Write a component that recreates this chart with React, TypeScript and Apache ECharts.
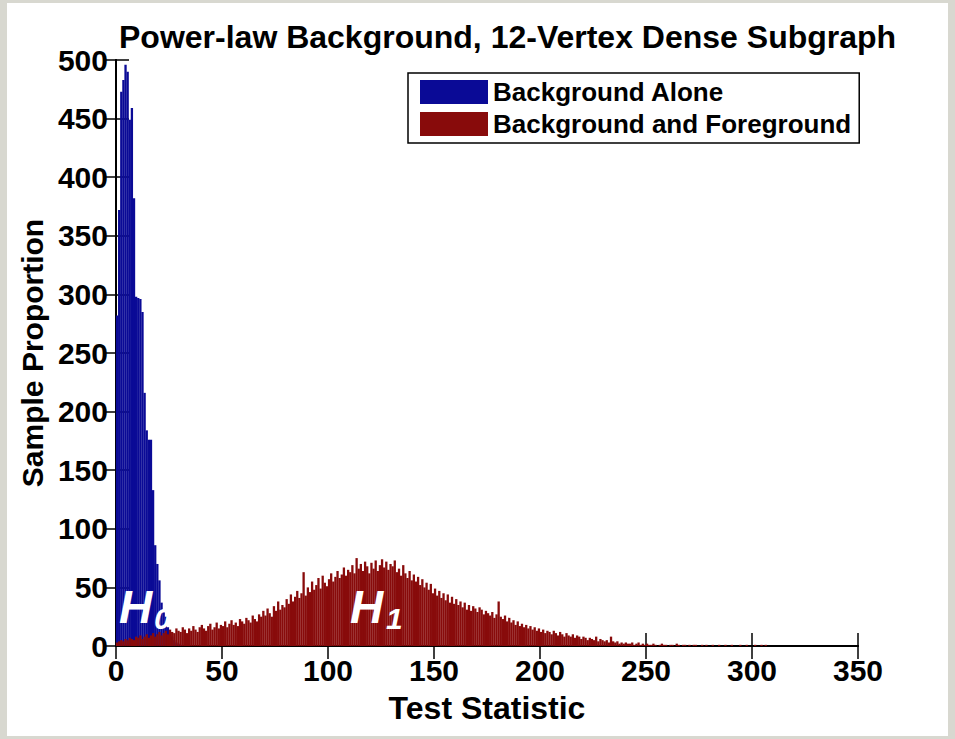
import React, { useEffect, useRef } from "react";
import * as echarts from "echarts";

const titleText = "Power-law Background, 12-Vertex Dense Subgraph";
const xAxisTitle = "Test Statistic";
const yAxisTitle = "Sample Proportion";
const seriesNames = ["Background Alone", "Background and Foreground"];

// histogram counts per unit-width bin, starting at bin 0
const blueValues = [
  282, 372, 473, 483, 496, 490, 449, 459, 382, 298,
  297, 296, 285, 216, 184, 176, 176, 133, 86, 70,
  56, 37, 30, 25, 16, 10, 8, 5, 3, 2, 1,
];

const redValues = [
  3, 4, 5, 4, 6, 5, 7, 6, 5, 8,
  7, 9, 6, 8, 10, 7, 9, 11, 8, 10,
  12, 9, 11, 13, 10, 14, 12, 11, 15, 13,
  12, 16, 14, 11, 15, 13, 17, 14, 12, 16,
  18, 15, 13, 17, 19, 14, 16, 20, 15, 18,
  17, 21, 16, 19, 22, 18, 20, 17, 23, 21,
  19, 24, 22, 20, 26, 23, 21, 27, 25, 30,
  26, 32, 28, 25, 34, 30, 38, 31, 35, 33,
  40, 36, 44, 38, 42, 47, 41, 45, 63, 43,
  50, 46, 55, 48, 52, 58, 49, 60, 54, 51,
  57, 62, 55, 59, 64, 58, 61, 67, 60, 65,
  63, 69, 62, 75, 66, 70, 64, 72, 68, 62,
  71, 66, 73, 64, 69, 74, 67, 72, 65, 70,
  68, 73, 63, 66, 60, 69, 62, 58, 64, 56,
  61, 55, 59, 52, 57, 50, 54, 48, 53, 45,
  49, 43, 47, 41, 45, 39, 44, 37, 42, 36,
  40, 35, 38, 33, 37, 31, 35, 30, 34, 32,
  29, 33, 31, 27, 30, 28, 26, 29, 24, 27,
  38, 25, 23, 26, 21, 24, 20, 22, 18, 21,
  17, 19, 16, 18, 15, 17, 14, 16, 13, 15,
  12, 14, 11, 13, 12, 10, 13, 11, 9, 12,
  10, 8, 11, 9, 8, 10, 7, 9, 8, 6,
  8, 7, 5, 7, 6, 5, 8, 4, 6, 5,
  4, 5, 3, 8, 4, 3, 4, 2, 3, 2,
  3, 2, 2, 3, 1, 2, 3, 1, 2, 1,
  2, 1, 1, 2, 1, 0, 1, 2, 1, 1,
  0, 1, 1, 0, 2, 1, 0, 1, 1, 0,
  1, 0, 1, 1, 0, 0, 1, 0, 1, 0,
  0, 1, 0, 0, 1, 0, 0, 1, 0, 0,
  1, 0, 0, 0, 1, 0, 0, 1, 0, 0,
  0, 1, 0, 0, 1, 0, 1, 0, 0, 0,
];

const xMin = 0;
const xMax = 350;
const xStep = 50;
const yMin = 0;
const yMax = 500;
const yStep = 50;

const FONT = "'Liberation Sans', Arial, Helvetica, sans-serif";
const BLUE = "#0a0a96";
const RED = "#880b0b";

const toBins = (vals: number[]) => vals.map((v, i) => [i + 0.5, v]);

export default function App() {
  const ref = useRef<HTMLDivElement>(null);
  useEffect(() => {
    if (!ref.current) return;
    const chart = echarts.init(ref.current, null, { renderer: "svg" });
    const axisLine = { show: true, lineStyle: { color: "#000", width: 2 } };
    const tick = { show: true, inside: true, length: 13, lineStyle: { color: "#000", width: 1.5 } };
    const tickLabel = { fontFamily: FONT, fontWeight: "bold" as const, fontSize: 30, color: "#000" };
    chart.setOption({
      animation: false,
      backgroundColor: "#d8d8d0",
      graphic: [
        { type: "rect", z: -10, shape: { x: 7, y: 3, width: 941, height: 733 }, style: { fill: "#fff" }, silent: true },
        { type: "text", z: 50, x: 119, y: 584, style: { text: "H", fill: "#fff", font: `italic bold 46px ${FONT}` } },
        { type: "text", z: 50, x: 154, y: 603, style: { text: "0", fill: "#fff", font: `italic bold 30px ${FONT}` } },
        { type: "text", z: 50, x: 350, y: 584, style: { text: "H", fill: "#fff", font: `italic bold 46px ${FONT}` } },
        { type: "text", z: 50, x: 386, y: 603, style: { text: "1", fill: "#fff", font: `italic bold 30px ${FONT}` } },
      ],
      title: {
        text: titleText,
        left: 114,
        top: 16,
        textStyle: { fontFamily: FONT, fontWeight: "bold", fontSize: 32, color: "#000" },
      },
      legend: {
        orient: "vertical",
        left: 408,
        top: 73,
        padding: [6, 8, 6, 12],
        itemGap: 6,
        itemWidth: 68,
        itemHeight: 24,
        icon: "rect",
        backgroundColor: "#fff",
        borderColor: "#000",
        borderWidth: 1.5,
        textStyle: { fontFamily: FONT, fontWeight: "bold", fontSize: 26, color: "#000" },
        data: seriesNames,
      },
      grid: { left: 116, right: 97, top: 60, bottom: 93, containLabel: false },
      xAxis: [
        {
          type: "value",
          min: xMin,
          max: xMax,
          interval: xStep,
          position: "bottom",
          name: xAxisTitle,
          nameLocation: "middle",
          nameGap: 46,
          nameTextStyle: { fontFamily: FONT, fontWeight: "bold", fontSize: 32, color: "#000" },
          axisLine,
          axisTick: tick,
          axisLabel: { ...tickLabel, margin: 9 },
          splitLine: { show: false },
        },
        {
          type: "value",
          min: xMin,
          max: xMax,
          interval: xStep,
          position: "top",
          axisLine,
          axisTick: tick,
          axisLabel: { show: false },
          splitLine: { show: false },
        },
      ],
      yAxis: [
        {
          type: "value",
          min: yMin,
          max: yMax,
          interval: yStep,
          position: "left",
          name: yAxisTitle,
          nameLocation: "middle",
          nameGap: 65,
          nameTextStyle: { fontFamily: FONT, fontWeight: "bold", fontSize: 30, color: "#000" },
          axisLine,
          axisTick: tick,
          axisLabel: { ...tickLabel, margin: 8 },
          splitLine: { show: false },
        },
        {
          type: "value",
          min: yMin,
          max: yMax,
          interval: yStep,
          position: "right",
          axisLine,
          axisTick: tick,
          axisLabel: { show: false },
          splitLine: { show: false },
        },
      ],
      series: [
        {
          name: seriesNames[0],
          type: "bar",
          xAxisIndex: 0,
          yAxisIndex: 0,
          barWidth: 2.3,
          barGap: "-100%",
          itemStyle: { color: BLUE },
          data: toBins(blueValues),
        },
        {
          name: seriesNames[1],
          type: "bar",
          xAxisIndex: 0,
          yAxisIndex: 0,
          barWidth: 2.3,
          barGap: "-100%",
          itemStyle: { color: RED },
          data: toBins(redValues),
        },
      ],
    });
    return () => chart.dispose();
  }, []);
  return (
    <div
      ref={ref}
      style={{ position: "absolute", left: 0, top: 0, width: 955, height: 739 }}
    />
  );
}
